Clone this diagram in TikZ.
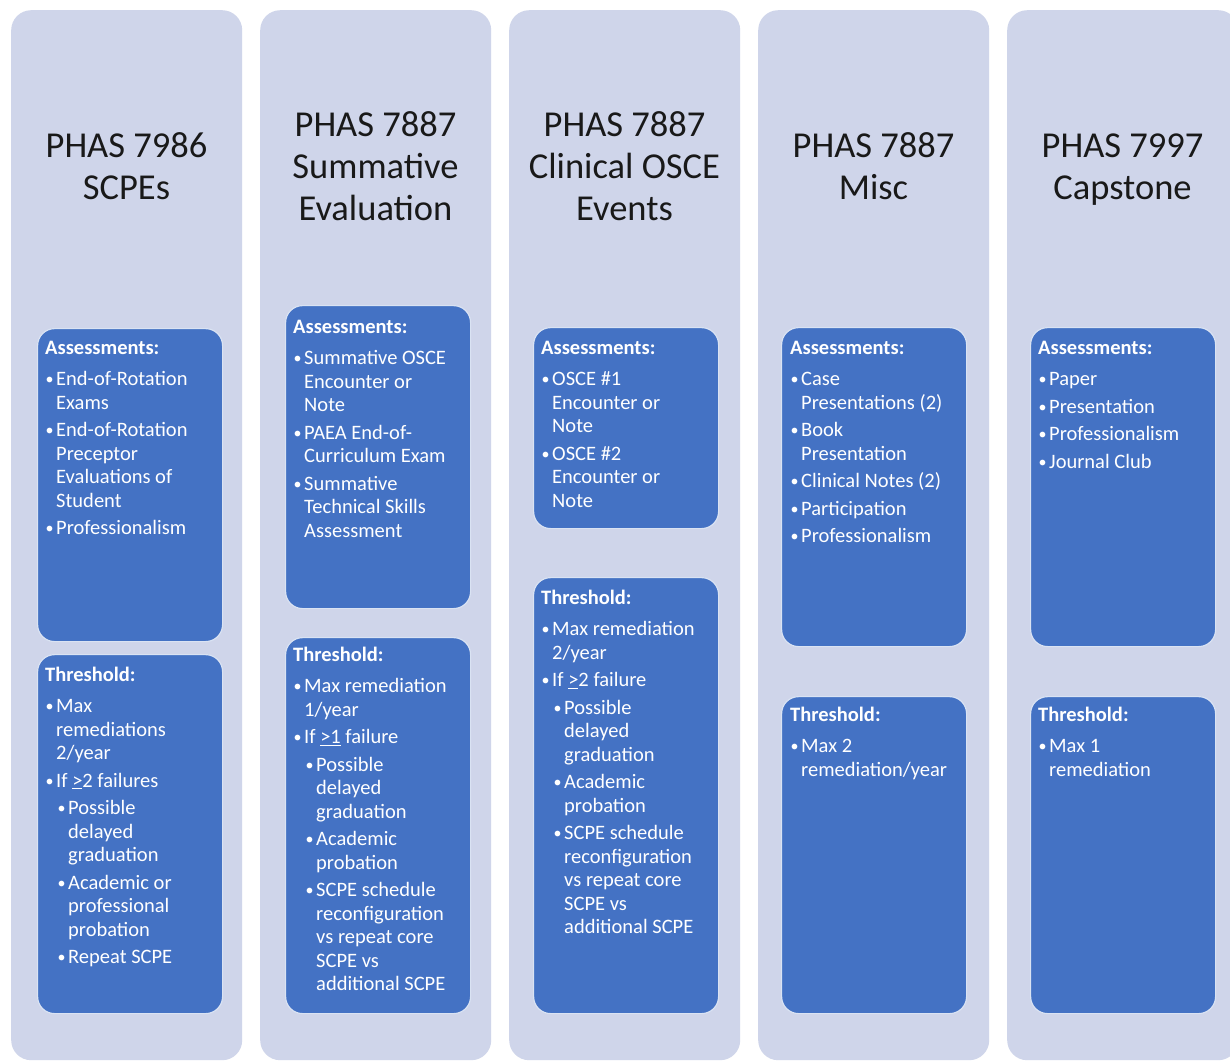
\documentclass[tikz,border=0pt]{standalone}
\usepackage{fontspec}
\setmainfont{Carlito}
\definecolor{lav}{HTML}{CFD5EA}
\definecolor{blu}{HTML}{4472C4}
\tikzset{
 colbox/.style={shape=rectangle, fill=lav, draw=none, rounded corners=20pt, anchor=north west, inner sep=0, minimum width=231pt, minimum height=1050pt},
 ibox/.style={shape=rectangle, fill=blu, draw=white!80!blu, line width=1.2pt, rounded corners=17pt, anchor=north west, inner sep=0, minimum width=185pt},
 ttl/.style={align=center, font=\fontsize{36.5}{42}\selectfont, text=black!90, inner sep=0},
 btxt/.style={anchor=north west, align=left, inner sep=0, text=white, font=\fontsize{20.5}{23.5}\selectfont},
}
\newcommand\hd[1]{\textbf{#1}\\[7.5pt]}
\newcommand\bu{\raisebox{0.8pt}{\fontsize{16}{16}\selectfont\textbullet}}
\newcommand\la{\makebox[11pt][l]{\hspace{0.5pt}\bu}}
\newcommand\lb{\hspace*{12pt}\makebox[11pt][l]{\hspace{0.5pt}\bu}}
\newcommand\ca{\hspace*{11pt}}
\newcommand\cb{\hspace*{23pt}}
\begin{document}
\begin{tikzpicture}[x=1pt,y=-1pt]
\useasboundingbox (0,0) rectangle (1230,1061);
\fill[white] (0,0) rectangle (1230,1061);
\clip (0,0) rectangle (1230,1061);
% columns
\node[colbox] (c1) at (11,10) {};
\node[colbox] (c2) at (260,10) {};
\node[colbox] (c3) at (509,10) {};
\node[colbox] (c4) at (758,10) {};
\node[colbox] (c5) at (1007,10) {};
% titles
\node[ttl] (t1) at (126.5,166) {PHAS 7986\\SCPEs};
\node[ttl] (t2) at (375.5,166) {PHAS 7887\\Summative\\Evaluation};
\node[ttl] (t3) at (624.5,166) {PHAS 7887\\Clinical OSCE\\Events};
\node[ttl] (t4) at (873.5,166) {PHAS 7887\\Misc};
\node[ttl] (t5) at (1122.5,170) {PHAS 7997\\Capstone};
% inner boxes
\node[ibox, minimum height=313pt] (a1) at (37,328) {};
\node[ibox, minimum height=359pt] (h1) at (37,654) {};
\node[ibox, minimum height=303pt] (a2) at (285,305) {};
\node[ibox, minimum height=376pt] (h2) at (285,637) {};
\node[ibox, minimum height=201pt] (a3) at (533,327) {};
\node[ibox, minimum height=436pt] (h3) at (533,577) {};
\node[ibox, minimum height=319pt] (a4) at (781,327) {};
\node[ibox, minimum height=317pt] (h4) at (781,696) {};
\node[ibox, minimum height=319pt] (a5) at (1030,327) {};
\node[ibox, minimum height=317pt] (h5) at (1030,696) {};
% texts
\node[btxt] (ta1) at (45,341) {\hd{Assessments:}\la End-of-Rotation\\\ca Exams\\[4pt]\la End-of-Rotation\\\ca Preceptor\\\ca Evaluations of\\\ca Student\\[4pt]\la Professionalism};
\node[btxt] (th1) at (45,667) {\hd{Threshold:}\la Max\\\ca remediations\\\ca 2/year\\[4pt]\la If \underline{>}2 failures\\[4pt]\lb Possible\\\cb delayed\\\cb graduation\\[4pt]\lb Academic or\\\cb professional\\\cb probation\\[4pt]\lb Repeat SCPE};
\node[btxt] (ta2) at (293,320) {\hd{Assessments:}\la Summative OSCE\\\ca Encounter or\\\ca Note\\[4pt]\la PAEA End-of-\\\ca Curriculum Exam\\[4pt]\la Summative\\\ca Technical Skills\\\ca Assessment};
\node[btxt] (th2) at (293,647) {\hd{Threshold:}\la Max remediation\\\ca 1/year\\[4pt]\la If \underline{>1} failure\\[4pt]\lb Possible\\\cb delayed\\\cb graduation\\[4pt]\lb Academic\\\cb probation\\[4pt]\lb SCPE schedule\\\cb reconfiguration\\\cb vs repeat core\\\cb SCPE vs\\\cb additional SCPE};
\node[btxt] (ta3) at (541,341) {\hd{Assessments:}\la OSCE \#1\\\ca Encounter or\\\ca Note\\[4pt]\la OSCE \#2\\\ca Encounter or\\\ca Note};
\node[btxt] (th3) at (541,590) {\hd{Threshold:}\la Max remediation\\\ca 2/year\\[4pt]\la If \underline{>}2 failure\\[4pt]\lb Possible\\\cb delayed\\\cb graduation\\[4pt]\lb Academic\\\cb probation\\[4pt]\lb SCPE schedule\\\cb reconfiguration\\\cb vs repeat core\\\cb SCPE vs\\\cb additional SCPE};
\node[btxt] (ta4) at (790,341) {\hd{Assessments:}\la Case\\\ca Presentations (2)\\[4pt]\la Book\\\ca Presentation\\[4pt]\la Clinical Notes (2)\\[4pt]\la Participation\\[4pt]\la Professionalism};
\node[btxt] (th4) at (790,707) {\hd{Threshold:}\la Max 2\\\ca remediation/year};
\node[btxt] (ta5) at (1038,341) {\hd{Assessments:}\la Paper\\[4pt]\la Presentation\\[4pt]\la Professionalism\\[4pt]\la Journal Club};
\node[btxt] (th5) at (1038,707) {\hd{Threshold:}\la Max 1\\\ca remediation};
\end{tikzpicture}
\end{document}
